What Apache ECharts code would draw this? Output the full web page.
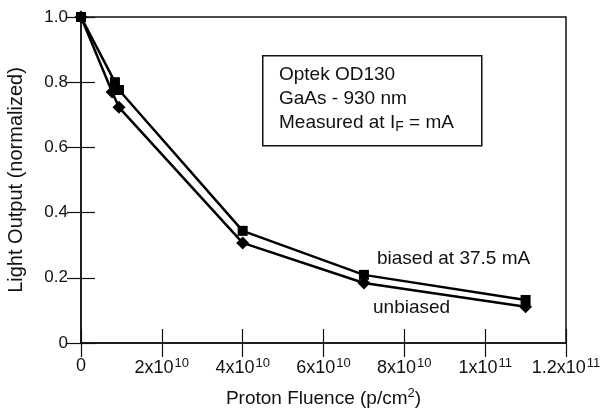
<!DOCTYPE html>
<html>
<head>
<meta charset="utf-8">
<script src="https://cdn.jsdelivr.net/npm/echarts@6/dist/echarts.min.js"></script>
<style>
  html, body { margin: 0; padding: 0; background: #fff; }
  #chart { width: 602px; height: 411px; }
</style>
</head>
<body>
<div id="chart"></div>
<script>
var myChart = echarts.init(document.getElementById('chart'));

// fluence (p/cm^2) and normalized light output
var biasedX = [0, 0.84e10, 0.94e10, 4e10, 7e10, 1.1e11];
var biasedY = [1.0, 0.80, 0.776, 0.344, 0.209, 0.132];
var unbiasedX = [0, 0.77e10, 0.94e10, 4e10, 7e10, 1.1e11];
var unbiasedY = [1.0, 0.77, 0.723, 0.307, 0.184, 0.111];

var xTicks = [0, 2e10, 4e10, 6e10, 8e10, 1e11, 1.2e11];
var xTickLabels = ['0', '2x10{sup|10}', '4x10{sup|10}', '6x10{sup|10}', '8x10{sup|10}', '1x10{sup|11}', '1.2x10{sup|11}'];
var yTickLabels = ['0', '0.2', '0.4', '0.6', '0.8', '1.0'];

var infoLines = ['Optek OD130', 'GaAs - 930 nm', 'Measured at I{sub|F} = mA'];

function pairs(xs, ys) {
  var out = [];
  for (var i = 0; i < xs.length; i++) out.push([xs[i], ys[i]]);
  return out;
}

var FONT = 'Liberation Sans, Arial, sans-serif';
var ink = '#111';

var tickRich = {
  sup: { fontSize: 13, fontFamily: FONT, color: ink, padding: [0, 0, 9, 1] }
};
var nameRich = {
  sup: { fontSize: 13, fontFamily: FONT, color: ink, padding: [0, 0, 10, 0] }
};

var option = {
  animation: false,
  backgroundColor: '#fff',
  textStyle: { fontFamily: FONT, color: ink },
  grid: {
    left: 81, right: 36, top: 17, bottom: 68, outerBoundsMode: 'none', containLabel: false,
    show: true, borderColor: ink, borderWidth: 1.5, backgroundColor: 'transparent'
  },
  xAxis: [{
    type: 'value', min: 0, max: 1.2e11, interval: 2e10,
    name: 'Proton Fluence (p/cm{sup|2})', nameLocation: 'middle', nameGap: 44,
    nameTextStyle: { fontSize: 19, fontFamily: FONT, color: ink, rich: nameRich },
    axisLine: { show: true, lineStyle: { color: ink, width: 1.5 } },
    axisTick: { show: true, inside: true, length: 14, lineStyle: { color: ink, width: 1.2 } },
    splitLine: { show: false },
    axisLabel: {
      fontSize: 18, color: ink, fontFamily: FONT, margin: 14, rich: tickRich,
      formatter: function (v) {
        var i = xTicks.indexOf(v);
        return i >= 0 ? xTickLabels[i] : '';
      }
    }
  }, {
    type: 'value', position: 'top', min: 0, max: 1.2e11, interval: 2e10,
    axisLine: { show: false },
    axisTick: { show: true, inside: true, length: 14, lineStyle: { color: ink, width: 1.2 } },
    axisLabel: { show: false }, splitLine: { show: false }
  }],
  yAxis: [{
    type: 'value', min: 0, max: 1.0, interval: 0.2,
    name: 'Light Output (normalized)', nameLocation: 'middle', nameGap: 55,
    nameTextStyle: { fontSize: 20, fontFamily: FONT, color: ink },
    axisLine: { show: true, lineStyle: { color: ink, width: 1.5 } },
    axisTick: { show: true, inside: true, length: 14, lineStyle: { color: ink, width: 1.2 } },
    splitLine: { show: false },
    axisLabel: {
      fontSize: 17, color: ink, fontFamily: FONT, margin: 13,
      formatter: function (v) { return yTickLabels[Math.round(v / 0.2)]; }
    }
  }, {
    type: 'value', position: 'right', min: 0, max: 1.0, interval: 0.2,
    axisLine: { show: false },
    axisTick: { show: true, inside: true, length: 14, lineStyle: { color: ink, width: 1.2 } },
    axisLabel: { show: false }, splitLine: { show: false }
  }],
  series: [{
    name: 'biased at 37.5 mA', type: 'line', data: pairs(biasedX, biasedY),
    symbol: 'rect', symbolSize: 10,
    lineStyle: { color: '#000', width: 2.5 }, itemStyle: { color: '#000' }
  }, {
    name: 'unbiased', type: 'line', data: pairs(unbiasedX, unbiasedY),
    symbol: 'diamond', symbolSize: 13,
    lineStyle: { color: '#000', width: 2.5 }, itemStyle: { color: '#000' }
  }],
  graphic: [{
    type: 'rect', left: 262, top: 55,
    shape: { width: 219, height: 90 },
    style: { fill: '#fff', stroke: ink, lineWidth: 1.5 }
  }, {
    type: 'text', left: 279, top: 63,
    style: {
      text: infoLines.join('\n'), fontSize: 19, fontFamily: FONT, fill: ink, lineHeight: 24,
      rich: { sub: { fontSize: 14, fontFamily: FONT, fill: ink, lineHeight: 24, padding: [9, 0, 0, 0] } }
    }
  }, {
    type: 'text', left: 377, top: 249,
    style: { text: 'biased at 37.5 mA', fontSize: 19, fontFamily: FONT, fill: ink }
  }, {
    type: 'text', left: 373, top: 298,
    style: { text: 'unbiased', fontSize: 19, fontFamily: FONT, fill: ink }
  }]
};

myChart.setOption(option);
</script>
</body>
</html>
